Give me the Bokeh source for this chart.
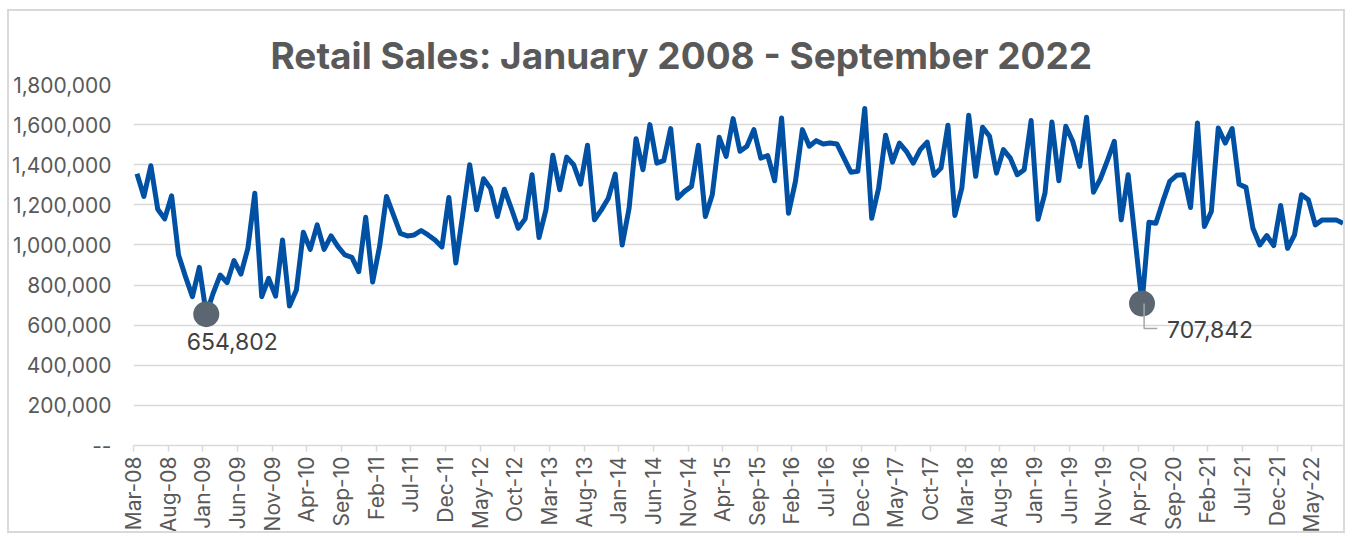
import math
from bokeh.plotting import figure
from bokeh.models import (Range1d, FixedTicker, NumeralTickFormatter,
                          Label, ColumnDataSource)
from bokeh.embed import file_html
from bokeh.resources import INLINE

# ---------------- data ----------------
title_text = "Retail Sales: January 2008 - September 2022"

# monthly retail sales, Mar-08 ... Sep-22
sales = [
    1355000, 1242000, 1395000, 1178000, 1130000, 1245000, 950000, 842000, 742000, 888000,
    654802, 760000, 850000, 812000, 922000, 855000, 983000, 1258000, 742000, 833000,
    745000, 1025000, 695000, 775000, 1063000, 978000, 1100000, 978000, 1045000, 992000,
    950000, 938000, 867000, 1138000, 815000, 992000, 1242000, 1150000, 1058000, 1045000,
    1050000, 1072000, 1050000, 1025000, 990000, 1237000, 910000, 1150000, 1400000, 1175000,
    1330000, 1283000, 1142000, 1278000, 1183000, 1083000, 1130000, 1350000, 1037000, 1175000,
    1447000, 1275000, 1438000, 1400000, 1303000, 1497000, 1125000, 1175000, 1233000, 1353000,
    1000000, 1183000, 1530000, 1375000, 1600000, 1408000, 1420000, 1580000, 1233000, 1267000,
    1292000, 1497000, 1142000, 1250000, 1537000, 1442000, 1630000, 1467000, 1492000, 1575000,
    1433000, 1445000, 1320000, 1633000, 1158000, 1317000, 1575000, 1492000, 1520000, 1503000,
    1508000, 1503000, 1433000, 1363000, 1367000, 1680000, 1133000, 1283000, 1547000, 1413000,
    1508000, 1467000, 1408000, 1475000, 1513000, 1347000, 1383000, 1597000, 1147000, 1283000,
    1647000, 1342000, 1587000, 1542000, 1358000, 1475000, 1433000, 1350000, 1375000, 1620000,
    1128000, 1258000, 1613000, 1320000, 1592000, 1517000, 1392000, 1637000, 1263000, 1330000,
    1420000, 1517000, 1125000, 1350000, 1030000, 707842, 1113000, 1108000, 1217000, 1317000,
    1347000, 1350000, 1187000, 1608000, 1092000, 1167000, 1583000, 1508000, 1580000, 1303000,
    1287000, 1083000, 1000000, 1047000, 997000, 1197000, 983000, 1050000, 1250000, 1225000,
    1100000, 1125000, 1125000, 1125000, 1108000,
]

tick_labels = [
    "Mar-08", "Aug-08", "Jan-09", "Jun-09", "Nov-09", "Apr-10", "Sep-10", "Feb-11",
    "Jul-11", "Dec-11", "May-12", "Oct-12", "Mar-13", "Aug-13", "Jan-14", "Jun-14",
    "Nov-14", "Apr-15", "Sep-15", "Feb-16", "Jul-16", "Dec-16", "May-17", "Oct-17",
    "Mar-18", "Aug-18", "Jan-19", "Jun-19", "Nov-19", "Apr-20", "Sep-20", "Feb-21",
    "Jul-21", "Dec-21", "May-22",
]
tick_step = 5

y_ticks = [0, 200000, 400000, 600000, 800000, 1000000, 1200000, 1400000, 1600000, 1800000]

low_idx = [10, 145]          # highlighted minima
# -------------------------------------

n = len(sales)
xs = list(range(n))

FONT = "Inter"
GRID = "#d9d9d9"
TXT = "#595959"

p = figure(width=1338, height=524, output_backend="svg", toolbar_location=None,
           x_range=Range1d(-0.5, n - 0.5), y_range=Range1d(0, 1800000),
           min_border_left=124, min_border_right=1, min_border_top=73,
           min_border_bottom=90)
p.outline_line_color = None
p.background_fill_color = "white"
p.border_fill_color = "white"
p.styles = {"border": "2px solid #d9d9d9", "margin-left": "7px", "margin-top": "9px"}

# title
p.title.text = title_text
p.title.align = "left"
p.title.offset = 137
p.title.text_font = FONT
p.title.text_font_size = "37px"
p.title.text_font_style = "bold"
p.title.text_color = TXT
p.title.standoff = 14

# y axis
p.yaxis.ticker = FixedTicker(ticks=y_ticks)
p.yaxis.formatter = NumeralTickFormatter(format="0,0")
p.yaxis.major_label_overrides = {0: "--"}
p.yaxis.axis_line_color = None
p.yaxis.major_tick_line_color = None
p.yaxis.minor_tick_line_color = None
p.yaxis.major_label_text_font = FONT
p.yaxis.major_label_text_font_size = "21px"
p.yaxis.major_label_text_color = TXT
p.yaxis.major_label_standoff = 16

p.ygrid.ticker = FixedTicker(ticks=y_ticks)
p.ygrid.grid_line_color = GRID
p.ygrid.grid_line_width = 1.5
p.xgrid.visible = False

# x axis: tick marks at category boundaries, labelled with the month that follows
bounds = [tick_step * k - 0.5 for k in range(len(tick_labels))]
ax = p.xaxis[0]
ax.ticker = FixedTicker(ticks=bounds)
ax.major_label_overrides = {b: t for b, t in zip(bounds, tick_labels)}
ax.major_label_orientation = math.pi / 2
ax.major_label_text_font = FONT
ax.major_label_text_font_size = "21px"
ax.major_label_text_color = TXT
ax.major_label_standoff = 5
ax.axis_line_color = GRID
ax.axis_line_width = 1.5
ax.major_tick_line_color = GRID
ax.major_tick_line_width = 1.5
ax.major_tick_out = 6
ax.major_tick_in = 0
ax.minor_tick_line_color = None

# series
src = ColumnDataSource(dict(x=xs, y=sales))
p.line("x", "y", source=src, line_color="#0050A4", line_width=5, line_join="round")

lows = ColumnDataSource(dict(x=low_idx, y=[sales[i] for i in low_idx]))
p.scatter("x", "y", source=lows, size=26, fill_color="#5B6670", line_color=None)

# leader line for the second low
i2 = low_idx[1]
lead_dy = 125000
p.line([i2 + 0.3, i2 + 0.3, i2 + 2.2],
       [sales[i2], sales[i2] - lead_dy, sales[i2] - lead_dy],
       line_color="#a6a6a6", line_width=1.5)

fmt = lambda v: f"{v:,}"
p.add_layout(Label(x=low_idx[0], y=sales[low_idx[0]], x_offset=26, y_offset=-27,
                   text=fmt(sales[low_idx[0]]), text_align="center", text_baseline="middle",
                   text_font=FONT, text_font_size="23px", text_color="#404040"))
p.add_layout(Label(x=i2, y=sales[i2], x_offset=25, y_offset=-26,
                   text=fmt(sales[i2]), text_align="left", text_baseline="middle",
                   text_font=FONT, text_font_size="23px", text_color="#404040"))

open("out.html", "w").write(file_html(p, INLINE))
